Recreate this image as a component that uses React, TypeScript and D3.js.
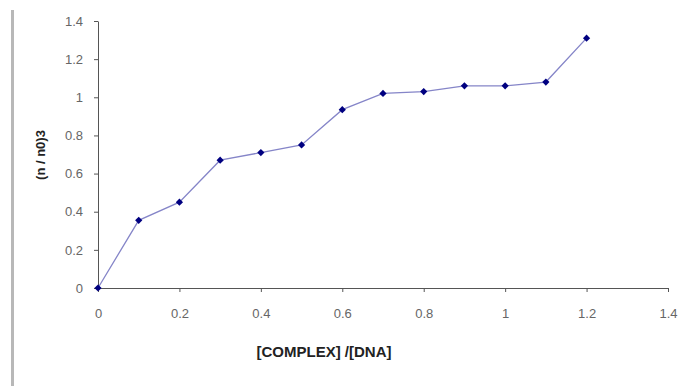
import { useEffect, useRef } from "react"
import * as d3 from "d3"

const xValues = [0, 0.1, 0.2, 0.3, 0.4, 0.5, 0.6, 0.7, 0.8, 0.9, 1.0, 1.1, 1.2]
const yValues = [0, 0.355, 0.45, 0.67, 0.71, 0.75, 0.935, 1.02, 1.03, 1.06, 1.06, 1.08, 1.31]
const xTicks = [0, 0.2, 0.4, 0.6, 0.8, 1, 1.2, 1.4]
const yTicks = [0, 0.2, 0.4, 0.6, 0.8, 1, 1.2, 1.4]

const W = 683, H = 386
const FONT = "'Liberation Sans', Arial, sans-serif"

export default function App() {
  const ref = useRef<SVGSVGElement>(null)
  useEffect(() => {
    if (!ref.current) return
    const svg = d3.select(ref.current)
    svg.selectAll("*").remove()
    svg.append("rect").attr("width", W).attr("height", H).attr("fill", "#fff")

    // left page border line
    svg.append("rect").attr("x", 11).attr("y", 10).attr("width", 3).attr("height", H - 10).attr("fill", "#b8b8b8")

    const x = d3.scaleLinear().domain([0, 1.4]).range([98, 668])
    const y = d3.scaleLinear().domain([0, 1.4]).range([288, 21])

    const gx = svg.append("g").attr("transform", `translate(0,${y(0)})`)
      .call(d3.axisBottom(x).tickValues(xTicks).tickSize(4).tickSizeOuter(0).tickFormat(d => String(d)))
    const gy = svg.append("g").attr("transform", `translate(${x(0)},0)`)
      .call(d3.axisLeft(y).tickValues(yTicks).tickSize(4).tickSizeOuter(0).tickFormat(d => String(d)))
    ;[gx, gy].forEach(g => {
      g.selectAll("path, line").attr("stroke", "#555")
      g.selectAll("text").attr("fill", "#666").style("font-family", FONT).style("font-size", "13px")
    })
    gx.selectAll("text").attr("y", 30).attr("dy", 0)
    gy.selectAll("text").attr("x", -15)

    const pts = xValues.map((v, i) => [v, yValues[i]] as [number, number])
    const line = d3.line<[number, number]>().x(d => x(d[0])).y(d => y(d[1]))
    svg.append("path").datum(pts).attr("d", line).attr("fill", "none").attr("stroke", "#8585c8").attr("stroke-width", 1.3)

    const sym = d3.symbol().type(d3.symbolSquare).size(26)
    svg.selectAll("path.pt").data(pts).join("path").attr("class", "pt")
      .attr("transform", d => `translate(${x(d[0])},${y(d[1])}) rotate(45)`)
      .attr("d", sym()).attr("fill", "#000080")

    svg.append("text").attr("x", 324).attr("y", 357).attr("text-anchor", "middle")
      .style("font-family", FONT).style("font-size", "15px").style("font-weight", "bold").attr("fill", "#222")
      .text("[COMPLEX] /[DNA]")
    svg.append("text").attr("transform", "translate(45,155) rotate(-90)").attr("text-anchor", "middle")
      .style("font-family", FONT).style("font-size", "13px").style("font-weight", "bold").attr("fill", "#222")
      .text("(n / n0)3")
  }, [])
  return <svg ref={ref} width={W} height={H} style={{ display: "block", position: "absolute", left: 0, top: 0 }} />
}
